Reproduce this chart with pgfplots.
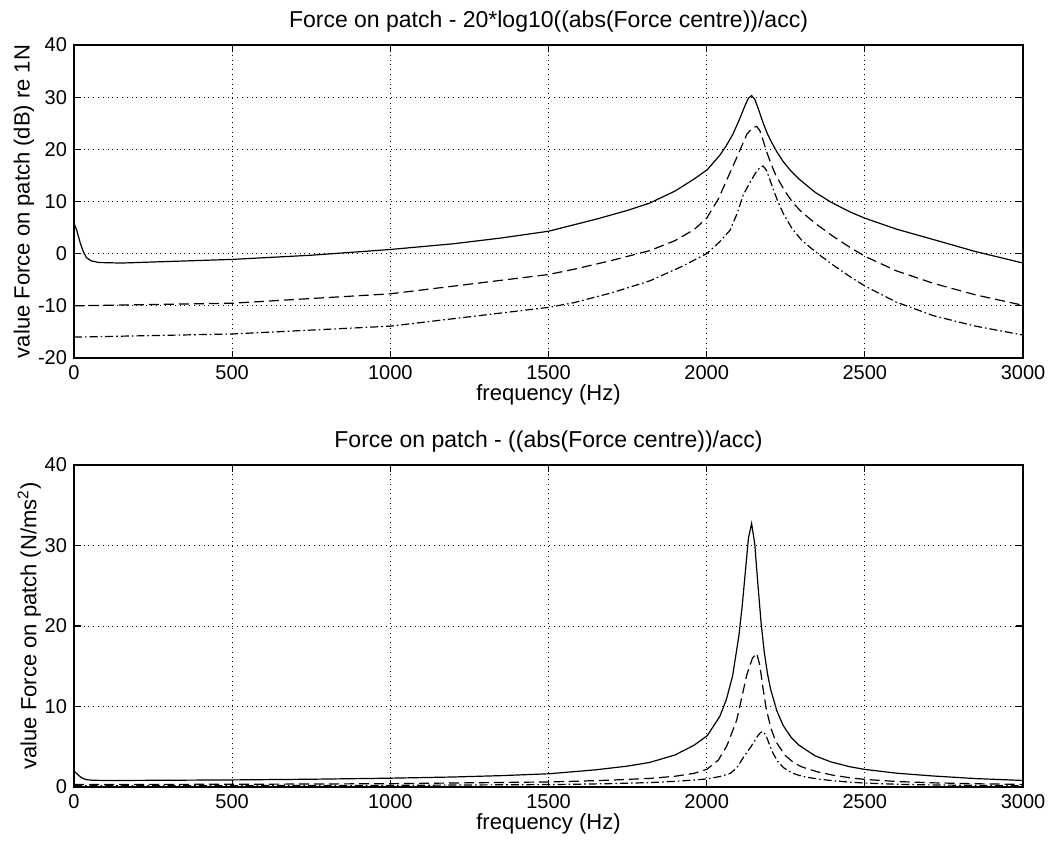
\documentclass[border=0pt]{standalone}
\usepackage{fontspec}
\setmainfont{Liberation Sans}
\usepackage{pgfplots}
\pgfplotsset{compat=1.18}
\usepackage{pgfplotstable}

\pgfplotstableread{
f db lin
0 5.9 1.972
10 4.2 1.622
20 2.0 1.259
30 0.3 1.035
40 -0.8 0.912
55 -1.4 0.851
80 -1.7 0.822
150 -1.8 0.813
300 -1.5 0.841
500 -1.1 0.881
750 -0.3 0.966
1000 0.8 1.096
1200 1.9 1.245
1350 3.0 1.413
1500 4.3 1.641
1650 6.6 2.138
1750 8.3 2.600
1820 9.7 3.055
1900 12.0 3.981
1960 14.3 5.188
2002 16.1 6.383
2042 18.9 8.810
2062 20.7 10.84
2082 22.8 13.80
2102 25.5 18.84
2112 27.0 22.39
2122 28.5 26.61
2132 29.8 30.90
2142 30.3 32.73
2152 29.6 30.20
2162 28.0 25.12
2172 26.2 20.42
2182 24.5 16.79
2192 23.0 14.13
2202 21.7 12.16
2222 19.5 9.441
2242 17.65 7.627
2267 15.8 6.166
2292 14.3 5.188
2342 11.8 3.890
2392 9.9 3.126
2453 8.0 2.512
2500 6.8 2.188
2600 4.7 1.718
2717 2.7 1.365
2850 0.4 1.047
3000 -1.8 0.813
}\solid

\pgfplotstableread{
f db lin
0 -10.0 0.316
500 -9.5 0.335
1000 -7.7 0.412
1500 -4.0 0.631
1580 -3.0 0.708
1700 -1.3 0.861
1821 0.6 1.072
1900 2.5 1.334
1960 4.6 1.698
2000 6.8 2.188
2037 10.5 3.350
2064 14.2 5.129
2095 18.4 8.318
2127 22.9 13.96
2145 24.1 16.03
2158 24.4 16.60
2168 23.6 15.14
2178 21.8 12.30
2188 19.8 9.772
2203 17.3 7.328
2218 15.1 5.689
2248 11.9 3.936
2275 9.6 3.020
2300 8.0 2.512
2348 5.6 1.905
2400 3.3 1.462
2453 1.2 1.148
2500 -0.5 0.944
2600 -3.3 0.684
2717 -5.7 0.519
2850 -7.9 0.403
3000 -9.9 0.320
}\dashedtab

\pgfplotstableread{
f db lin
0 -16.0 0.158
500 -15.4 0.170
1000 -13.9 0.202
1500 -10.3 0.305
1580 -9.4 0.339
1700 -7.5 0.422
1821 -5.2 0.550
1920 -2.5 0.750
2000 0.0 1.000
2040 2.2 1.288
2074 4.5 1.679
2095 7.5 2.371
2116 11.3 3.673
2140 14.0 5.012
2158 15.8 6.166
2170 16.6 6.761
2178 16.8 6.918
2188 16.1 6.383
2198 14.5 5.309
2210 12.4 4.169
2225 10.0 3.162
2243 7.6 2.399
2270 4.8 1.738
2300 2.6 1.349
2327 1.2 1.148
2360 -0.4 0.955
2400 -2.2 0.776
2453 -4.4 0.603
2500 -6.2 0.490
2600 -9.3 0.343
2717 -11.9 0.254
2850 -13.9 0.202
3000 -15.6 0.166
}\dashdottab

\pgfplotsset{
  matlab/.style={
    scale only axis,
    width=474.5pt,
    xmin=0, xmax=3000,
    xtick={0,500,...,3000},
    grid=major,
    grid style={dotted, black, line width=0.5pt},
    tick align=inside,
    axis line style={black, line width=0.6pt},
    tick style={black, line width=0.6pt},
    major tick length=3.5pt,
    tick label style={font=\fontsize{10}{12}\selectfont},
    label style={font=\fontsize{11}{13}\selectfont},
    title style={font=\fontsize{11.5}{13}\selectfont, yshift=-3pt},
    /pgf/number format/assume math mode=true,
    /pgf/number format/1000 sep={},
    scaled ticks=false,
    xlabel={frequency (Hz)},
    xlabel style={yshift=4pt},
    ylabel style={yshift=-5pt},
    every axis plot/.append style={black, line width=0.6pt},
  },
  dsh/.style={dash pattern=on 5pt off 2.5pt},
  dshdot/.style={dash pattern=on 4pt off 1.5pt on 0.8pt off 1.5pt},
}

\begin{document}
\begin{tikzpicture}
\path[use as bounding box] (0,0) rectangle (527pt,-425.5pt);

\begin{axis}[matlab,
  at={(37pt,-22.5pt)}, anchor=north west,
  height=156.5pt,
  ymin=-20, ymax=40, ytick={-20,-10,...,40},
  title={Force on patch - 20*log10((abs(Force centre))/acc)},
  ylabel={value Force on patch (dB) re 1N},
]
\addplot[solid] table[x=f, y=db] {\solid};
\addplot[dsh] table[x=f, y=db] {\dashedtab};
\addplot[dshdot] table[x=f, y=db] {\dashdottab};
\end{axis}

\begin{axis}[matlab,
  at={(37pt,-232.5pt)}, anchor=north west,
  height=161pt,
  ymin=0, ymax=40, ytick={0,10,...,40},
  title={Force on patch - ((abs(Force centre))/acc)},
  ylabel={value Force on patch (N/ms\textsuperscript{2})},
]
\addplot[solid] table[x=f, y=lin] {\solid};
\addplot[dsh] table[x=f, y=lin] {\dashedtab};
\addplot[dshdot] table[x=f, y=lin] {\dashdottab};
\end{axis}
\end{tikzpicture}
\end{document}
